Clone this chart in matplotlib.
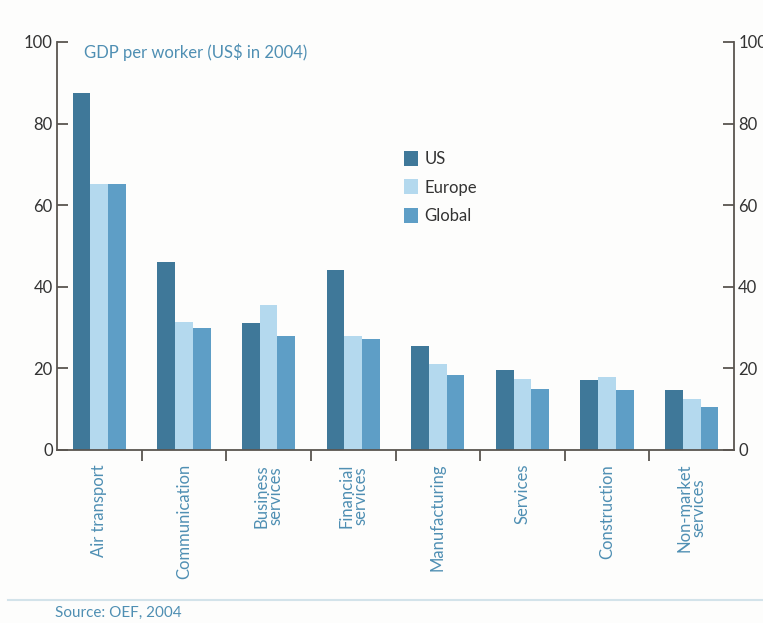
import numpy as np
import matplotlib
matplotlib.use("Agg")
from matplotlib import pyplot as plt

categories = ["Air transport", "Communication", "Business\nservices", "Financial\nservices",
              "Manufacturing", "Services", "Construction", "Non-market\nservices"]
us = [87.5, 46.0, 31.1, 44.1, 25.5, 19.6, 17.2, 14.7]
europe = [65.2, 31.4, 35.5, 28.0, 21.0, 17.4, 17.9, 12.5]
glob = [65.2, 29.9, 28.0, 27.2, 18.4, 15.0, 14.7, 10.5]
yticks = [0, 20, 40, 60, 80, 100]

c_us = "#3f7899"
c_eu = "#b4d9ee"
c_gl = "#5e9ec6"
c_txt = "#4f8fb3"
c_axis = "#5a5550"

plt.rcParams["font.family"] = ["Lato", "DejaVu Sans"]

fig = plt.figure(figsize=(7.63, 6.23), dpi=100)
fig.patch.set_facecolor("#fdfdfc")
ax = fig.add_axes([0.0747, 0.2777, 0.8873, 0.6549])
ax.set_facecolor("#fdfdfc")

x = np.arange(len(categories))
w = 0.21
ax.bar(x - w, us, w, color=c_us, label="US")
ax.bar(x, europe, w, color=c_eu, label="Europe")
ax.bar(x + w, glob, w, color=c_gl, label="Global")

ax.set_xlim(-0.5, len(categories) - 0.5)
ax.set_ylim(0, 100)
ax.spines["top"].set_visible(False)
for s in ["left", "right", "bottom"]:
    ax.spines[s].set_color(c_axis)
    ax.spines[s].set_linewidth(1.3)

ax.set_yticks(yticks)
ax.tick_params(axis="y", direction="in", length=8, width=1.3, color=c_axis,
               labelsize=12, labelcolor="#333333", left=True, right=True,
               labelleft=True, labelright=True, pad=3)

# category boundaries as ticks, labels at centres
ax.set_xticks(np.arange(len(categories) - 1) + 0.5)
ax.set_xticklabels([])
ax.set_xticks(x, minor=True)
ax.set_xticklabels(categories, minor=True, rotation=90, va="top", ha="center",
                   fontsize=12, color=c_txt, linespacing=0.85)
ax.tick_params(axis="x", which="minor", length=0, pad=10)
ax.tick_params(axis="x", which="major", direction="out", length=8, width=1.3, color=c_axis)

ax.text(0.04, 0.997, "GDP per worker (US$ in 2004)", transform=ax.transAxes,
        fontsize=12, color=c_txt, va="top", ha="left")

leg = ax.legend(loc="upper left", bbox_to_anchor=(0.49, 0.77), frameon=False,
                fontsize=12, handlelength=0.85, handleheight=1.0, handletextpad=0.4,
                labelspacing=0.75)
for t in leg.get_texts():
    t.set_color("#333333")

fig.add_artist(plt.Line2D([0.01, 1.0], [0.037, 0.037], transform=fig.transFigure,
                          color="#d3e3ea", linewidth=1.5))
fig.text(0.072, 0.016, "Source: OEF, 2004", fontsize=11, color=c_txt, va="center")

fig.savefig("out.png", dpi=100, facecolor=fig.get_facecolor())
